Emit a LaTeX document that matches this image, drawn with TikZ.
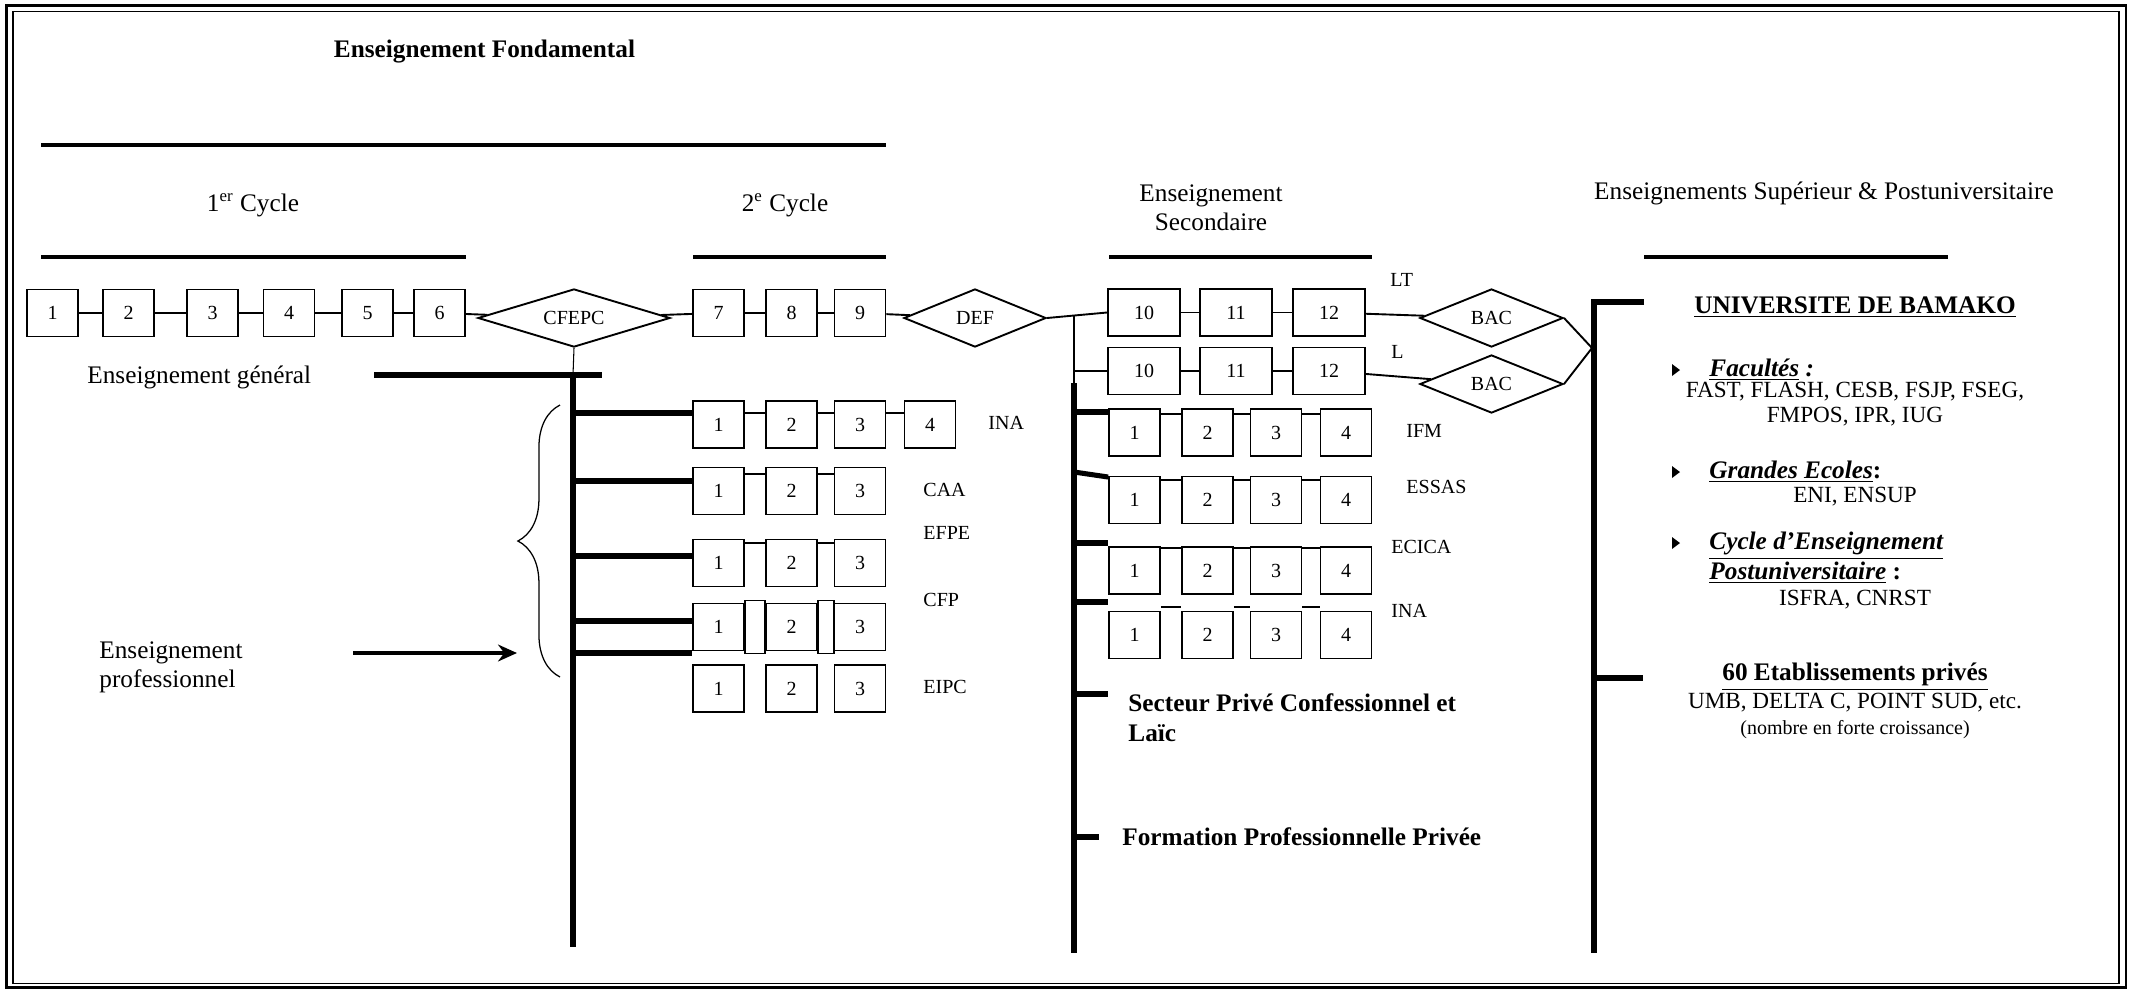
\documentclass[tikz,border=0pt]{standalone}
\usepackage{fontspec}
\setmainfont{Liberation Serif}
\usetikzlibrary{arrows.meta, shapes.geometric, decorations.pathreplacing}
\usetikzlibrary{positioning}

\tikzset{
  annee/.style={draw, line width=0.9pt, minimum width=24.2pt, minimum height=22.3pt, inner sep=0pt, font=\fontsize{9.5}{11}\selectfont},
  annee2/.style={annee, minimum width=34.2pt},
  examen/.style={draw, diamond, aspect=3, line width=0.9pt, inner sep=0pt, minimum height=27.6pt, font=\fontsize{9.5}{11}\selectfont},
  fil/.style={line width=0.9pt},
  tronc/.style={line width=2.4pt},
  barre/.style={line width=1.9pt},
  petit/.style={font=\fontsize{9.5}{11}\selectfont},
  liste/.style={font=\fontsize{11}{11.9}\selectfont},
}

\begin{document}
\fontsize{12}{14}\selectfont
\begin{tikzpicture}[x=0.475pt, y=-0.475pt, inner sep=0pt]
            \useasboundingbox (0,0) rectangle (2134,989);
            \draw[line width=1.4pt] (6.5,5.5) rectangle (2126,987.5); %外枠
            \draw[line width=0.9pt] (13,11.5) rectangle (2119,983.5);
            % titres
            \node[font=\bfseries] at (484.5,52) {Enseignement Fondamental};
            \draw[barre] (41,145) -- (886,145);
            \node at (253,205) {1\textsuperscript{er} Cycle};
            \node at (785,205) {2\textsuperscript{e} Cycle};
            \node[align=center, font=\fontsize{12}{13.8}\selectfont] at (1211,207.5) {Enseignement\\Secondaire};
            \node at (1824,193) {Enseignements Supérieur \& Postuniversitaire};
            \draw[barre] (41,257) -- (466,257);
            \draw[barre] (693,257) -- (886,257);
            \draw[barre] (1109,257) -- (1372,257);
            \draw[barre] (1644,257) -- (1948,257);
            % fondamental
            \foreach \n/\x in {1/52.5, 2/128.5, 3/212.5, 4/289, 5/367.5, 6/439.5, 7/718.5, 8/791.5, 9/860}
              \node[annee] (h\n) at (\x,313) {\n};
            \node[examen, minimum width=91.2pt] (cfepc) at (574,318) {CFEPC};
            \node[examen, minimum width=67.5pt] (def) at (975,318) {DEF};
            \foreach \a/\b in {h1/h2, h2/h3, h3/h4, h4/h5, h5/h6, h6/cfepc, cfepc/h7, h7/h8, h8/h9, h9/def}
              \draw[fil] (\a) -- (\b);
            % secondaire
            \foreach \r/\y in {a/312.5, b/371}
              \foreach \n/\x in {10/1144, 11/1236, 12/1329}
                \node[annee2] (s\r\n) at (\x,\y) {\n};
            \foreach \r in {a,b}
              {\draw[fil] (s\r10) -- (s\r11); \draw[fil] (s\r11) -- (s\r12);}
            \coordinate (j1) at (1074,315);
            \draw[fil] (def.east) -- (sa10.west);
            \draw[fil] (j1) |- (sb10.west);
            \node[petit, anchor=west] (lt) at (1390,280) {LT};
            \node[petit, anchor=west] (l) at (1391,352) {L};
            \node[examen, minimum width=68pt] (bac1) at (1491.5,318) {BAC};
            \node[examen, minimum width=68pt] (bac2) at (1491.5,384) {BAC};
            \draw[fil] (sa12) -- (bac1);
            \draw[fil] (sb12) -- (bac2);
            \coordinate (conv) at (1592,348);
            \draw[fil] (bac1.east) -- (conv) -- (bac2.east);
            % troncs
            \coordinate (t1h) at (573,375); \coordinate (t1b) at (573,947);
            \coordinate (t2h) at (1074,383); \coordinate (t2b) at (1074,953);
            \coordinate (u1) at (1644,302); \coordinate (t3b) at (1594,953);
            \coordinate (u2) at (1643,678);
            \draw[line width=0.5pt] (cfepc.south) -- (t1h);
            \draw[tronc] (t1h) -- (t1b);
            \draw[tronc] (374,375) -- (602,375); %général
            \draw[fil] (j1) -- (t2h);
            \draw[tronc] (t2h) -- (t2b);
            \draw[tronc, line join=miter] (u1) -| (t3b);
            \draw[tronc] (t3b |- u2) -- (u2);
            % professionnel (fondamental)
            \foreach \r/\y in {a/424.5, b/491, c/563, d/627, e/688.5}
              \foreach \n/\x in {1/718.5, 2/791.5, 3/860}
                \node[annee] (p\r\n) at (\x,\y) {\n};
            \node[annee] (pa4) at (930,424.5) {4};
            \foreach \r/\s in {a/5.5pt, b/8.1pt, c/9.5pt}
              \foreach \a/\b in {1/2, 2/3}
                \draw[fil] ([yshift=\s]p\r\a.east) -- ([yshift=\s]p\r\b.west);
            \draw[fil] ([yshift=5.5pt]pa3.east) -- ([yshift=5.5pt]pa4.west);
            \draw[fil] ([yshift=1pt]pd1.north east) rectangle ([yshift=-1pt]pd2.south west);
            \draw[fil] ([yshift=1pt]pd2.north east) rectangle ([yshift=-1pt]pd3.south west);
            \foreach \y in {413, 481, 556, 621, 653}
              \draw[tronc] (t1h |- 0,\y) -- (pa1.west |- 0,\y);
            \node[petit, anchor=west] (ina) at (988,423) {INA};
            \node[petit, anchor=west] (caa) at (923,490) {CAA};
            \node[petit, anchor=west] (efpe) at (923,533) {EFPE};
            \node[petit, anchor=west] (cfp) at (923,600) {CFP};
            \node[petit, anchor=west] (eipc) at (923,687) {EIPC};
            \node[anchor=west] (gen) at (87,377) {Enseignement général};
            \node[anchor=west, align=left, font=\fontsize{12}{13.8}\selectfont] (pro) at (99,667) {Enseignement\\professionnel};
            \coordinate (ac1) at (560,677); \coordinate (ac2) at (560,405);
            \draw[line width=0.6pt, decorate, decoration={brace, amplitude=20pt}] (ac1) -- (ac2); %accolade
            \coordinate (f1) at (353,653); \coordinate (f2) at (517,653);
            \draw[line width=1.6pt, -{Stealth[length=9pt, width=8pt]}] (f1) -- (f2);
            % professionnel (secondaire)
            \foreach \r/\y in {f/432.5, g/500, h/570.5, i/635}
              \foreach \n/\x in {1/1134.5, 2/1207.5, 3/1276, 4/1346}
                \node[annee] (p\r\n) at (\x,\y) {\n};
            \foreach \r/\s in {f/8.8pt, g/9.5pt, h/10.7pt, i/13.3pt}
              \foreach \a/\b in {1/2, 2/3, 3/4}
                \draw[fil] ([yshift=\s]p\r\a.east) -- ([yshift=\s]p\r\b.west);
            \foreach \y in {412, 543, 602, 694}
              \draw[tronc] (t2h |- 0,\y) -- (pf1.west |- 0,\y);
            \draw[tronc] (t2h |- 0,472) -- (pf1.west |- 0,477);
            \draw[tronc] (t2h |- 0,837) -- (1099,837);
            \node[petit, anchor=west] (ifm) at (1406,431) {IFM};
            \node[petit, anchor=west] (essas) at (1406,487) {ESSAS};
            \node[petit, anchor=west] (ecica) at (1391,547) {ECICA};
            \node[petit, anchor=west] (ina2) at (1391,611) {INA};
            \node[font=\fontsize{12}{14.25}\selectfont\bfseries, anchor=west, align=left] (prive) at (1128,718) {Secteur Privé Confessionnel et\\Laïc};
            \node[font=\bfseries, anchor=west] (form) at (1122,837) {Formation Professionnelle Privée};
            % supérieur
            \node[font=\bfseries] (ub) at (1855,307) {\underline{UNIVERSITE DE BAMAKO}};
            \foreach \y in {370, 472, 543}
              \fill (1672,\y-6) -- (1680,\y) -- (1672,\y+6) -- cycle; %puces
            \node[anchor=west, font=\bfseries\itshape] (fac) at (1709,370) {\underline{Facultés} :};
            \node[liste, align=center] (faclist) at (1855,404.5) {FAST, FLASH, CESB, FSJP, FSEG,\\FMPOS, IPR, IUG};
            \node[anchor=west, font=\bfseries\itshape] (ge) at (1709,472) {\underline{Grandes Ecoles}\upshape :};
            \node[liste] (eni) at (1855,497) {ENI, ENSUP};
            \node[anchor=west, align=left, font=\fontsize{12}{14.25}\selectfont\bfseries\itshape] (cycle) at (1709,558) {\underline{Cycle d’Enseignement}\\\underline{Postuniversitaire} \upshape :};
            \node[liste] (isfra) at (1855,600) {ISFRA, CNRST};
            \node[font=\bfseries] (prives) at (1855,677) {\underline{60 Etablissements privés}};
            \node[liste] (umb) at (1855,703) {UMB, DELTA C, POINT SUD, etc.};
            \node[petit] (nombre) at (1855,730) {(nombre en forte croissance)};
        \end{tikzpicture}
\end{document}
